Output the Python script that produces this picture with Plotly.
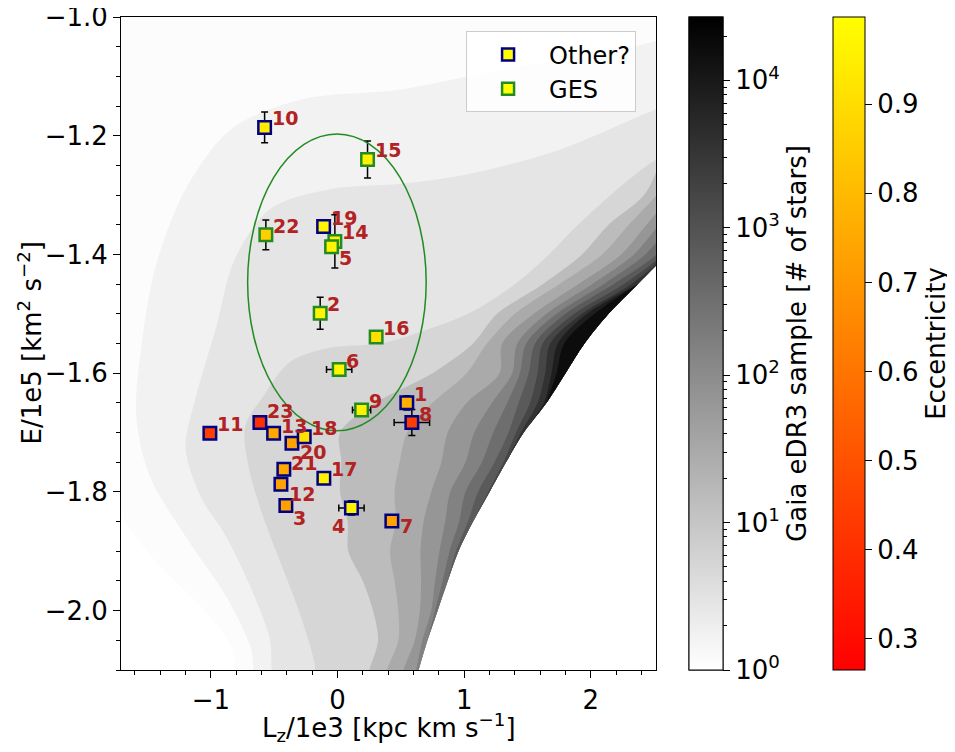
import numpy as np
import plotly.graph_objects as go
from plotly.colors import sample_colorscale

# stars: Lz/1e3 [kpc km/s], E/1e5 [km^2/s^2]
STAR_ID = [1, 2, 3, 4, 5, 6, 7, 8, 9, 10, 11, 12, 13, 14, 15, 16, 17, 18, 19, 20, 21, 22, 23]
STAR_LZ = [0.547, -0.137, -0.408, 0.110, -0.047, 0.013, 0.429, 0.587, 0.190, -0.576, -1.008, -0.447,
           -0.505, -0.021, 0.237, 0.305, -0.108, -0.263, -0.110, -0.360, -0.424, -0.566, -0.613]
STAR_E = [-1.650, -1.499, -1.823, -1.827, -1.387, -1.594, -1.849, -1.683, -1.662, -1.186, -1.701, -1.787,
          -1.701, -1.378, -1.240, -1.539, -1.777, -1.707, -1.353, -1.718, -1.762, -1.367, -1.683]
STAR_LZ_ERR = [0, 0, 0, 0.10, 0, 0.10, 0, 0.14, 0.072, 0, 0, 0, 0, 0, 0, 0, 0, 0, 0, 0, 0, 0, 0]
STAR_E_ERR = [0.012, 0.027, 0, 0.012, 0, 0, 0, 0.022, 0, 0.026, 0, 0, 0, 0.045, 0.031, 0, 0, 0, 0, 0, 0, 0.025, 0]
STAR_ECC = [0.77, 0.97, 0.73, 0.96, 0.97, 0.98, 0.73, 0.44, 0.96, 0.94, 0.45, 0.73,
            0.75, 0.96, 0.96, 0.91, 0.96, 0.91, 0.97, 0.73, 0.75, 0.86, 0.40]
STAR_GROUP = ["Other?", "GES", "Other?", "Other?", "GES", "GES", "Other?", "Other?", "GES", "Other?", "Other?",
              "Other?", "Other?", "GES", "GES", "GES", "Other?", "Other?", "Other?", "Other?", "Other?", "GES",
              "Other?"]

# Gaia eDR3 background
# lower/right envelope of the sample (Lz at each energy row)
E_ROWS = [-1.20, -1.30, -1.35, -1.40, -1.45, -1.50, -1.55, -1.60, -1.65, -1.70,
          -1.75, -1.80, -1.85, -1.90, -1.95, -2.00, -2.05, -2.10, -2.15]
EDGE_LZ = [3.50, 3.04, 2.82, 2.60, 2.37, 2.14, 1.95, 1.80, 1.65, 1.47,
           1.33, 1.20, 1.07, 0.955, 0.87, 0.79, 0.71, 0.64, 0.57]

# dense band along the envelope: log10(# of stars) and how far (in Lz) it reaches from the edge
BAND_LEVEL = [1.16, 1.48, 1.82, 2.17, 2.52, 2.87, 3.21, 3.56, 3.91, 4.22]
BAND_OFFSET = [
    [0.80, 0.62, 0.68, 0.67, 0.75, 0.88, 0.88, 1.05, 1.35, 1.45, 1.30, 1.18, 0.99, 0.87, 0.67, 0.51, 0.39, 0.39, 0.39],
    [0.60, 0.52, 0.52, 0.51, 0.62, 0.74, 0.77, 0.78, 0.90, 0.92, 0.84, 0.75, 0.61, 0.54, 0.42, 0.31, 0.23, 0.25, 0.25],
    [0.45, 0.40, 0.38, 0.36, 0.47, 0.59, 0.65, 0.52, 0.63, 0.60, 0.51, 0.46, 0.39, 0.30, 0.21, 0.14, 0.10, 0.12, 0.12],
    [0.35, 0.30, 0.28, 0.26, 0.36, 0.49, 0.53, 0.42, 0.43, 0.39, 0.32, 0.31, 0.22, 0.15, 0.10, 0.05, 0.04, 0.02, 0.02],
    [0.30, 0.20, 0.19, 0.17, 0.27, 0.41, 0.46, 0.36, 0.31, 0.24, 0.19, 0.19, 0.11, 0.07, 0.04, 0.02, 0, 0, 0],
    [0.25, 0.12, 0.10, 0.08, 0.19, 0.34, 0.39, 0.29, 0.22, 0.12, 0.09, 0.09, 0.04, 0.02, 0, 0, 0, 0, 0],
    [0.20, 0.05, 0.04, 0.03, 0.11, 0.27, 0.33, 0.22, 0.13, 0.06, 0.02, 0.01, 0, 0, 0, 0, 0, 0, 0],
    [0.15, 0, 0, 0, 0.05, 0.21, 0.27, 0.16, 0.07, 0.02, 0, 0, 0, 0, 0, 0, 0, 0, 0],
    [0, 0, 0, 0, 0, 0.17, 0.21, 0.11, 0.02, 0, 0, 0, 0, 0, 0, 0, 0, 0, 0],
    [0, 0, 0, 0, 0, 0.11, 0.16, 0.07, 0, 0, 0, 0, 0, 0, 0, 0, 0, 0, 0],
]

# sparse halo: log10(# of stars) and its outer boundary
HALO_LEVEL = [0.06, 0.22, 0.45, 0.72]
HALO_LZ = [
    [3.2, -1.8, -1.8, -1.705, -1.40, -1.08, -0.84, -0.73],
    [3.2, 2.52, 1.29, 0.50, -0.29, -0.84, -1.20, -1.44, -1.55, -1.59, -1.48, -1.20, -0.88, -0.69, -0.59],
    [3.2, 2.52, 1.76, 1.05, 0.50, -0.06, -0.53, -0.81, -0.96, -1.12, -1.20, -1.08, -0.88, -0.69, -0.54, -0.45],
    [3.2, 2.52, 1.90, 1.67, 1.40, 1.03, 0.66, 0.34, -0.06, -0.37, -0.59, -0.73, -0.70, -0.59, -0.43, -0.29,
     -0.18, -0.15],
]
HALO_E = [
    [-0.95, -0.95, -1.80, -1.842, -1.926, -1.993, -2.059, -2.15],
    [-0.98, -1.04, -1.089, -1.122, -1.139, -1.189, -1.29, -1.423, -1.557, -1.674, -1.775, -1.875, -1.976,
     -2.059, -2.15],
    [-1.10, -1.155, -1.223, -1.264, -1.281, -1.29, -1.323, -1.407, -1.524, -1.641, -1.725, -1.808, -1.875,
     -1.959, -2.043, -2.15],
    [-1.18, -1.24, -1.35, -1.40, -1.45, -1.50, -1.53, -1.55, -1.557, -1.58, -1.64, -1.69, -1.76, -1.84, -1.93,
     -2.01, -2.09, -2.15],
]

# GES selection ellipse
ELL_LZ = (-0.71, 0.70)
ELL_E = (-1.697, -1.197)

LOG_MAX = 4.43
GREY = [[0, "rgb(255,255,255)"], [1, "rgb(0,0,0)"]]
AUTUMN = [[0, "rgb(255,0,0)"], [1, "rgb(255,255,0)"]]
ECC_MIN, ECC_MAX = 0.265, 0.998
BORDER = {"Other?": "navy", "GES": "forestgreen"}
FONT = "DejaVu Sans"

# label nudges in px (most sit up-right of the marker)
LABEL_SHIFT = {3: (5, -12), 4: (-21, -18), 5: (5, -11), 7: (6, -5), 8: (5, 8), 12: (6, -10),
               13: (5, 7), 20: (6, -9), 21: (5, 6), 23: (5, 11)}


def grey(level):
    return sample_colorscale(GREY, [level / LOG_MAX])[0]


def area(xs, ys, level):
    return go.Scatter(x=xs + xs[:1], y=ys + ys[:1], mode="lines", fill="toself", fillcolor=grey(level),
                      line=dict(width=0, shape="spline", smoothing=0.9), hoverinfo="skip", showlegend=False)


fig = go.Figure()

for level, lz, e in zip(HALO_LEVEL, HALO_LZ, HALO_E):
    fig.add_trace(area(lz + EDGE_LZ[::-1], e + E_ROWS[::-1], level))

for level, off in zip(BAND_LEVEL, BAND_OFFSET):
    used = [i for i, d in enumerate(off) if d > 0]
    rows = list(range(max(used[0] - 1, 0), min(used[-1] + 1, len(off) - 1) + 1))
    xs = [EDGE_LZ[i] - off[i] for i in rows] + [EDGE_LZ[i] for i in rows[::-1]]
    ys = [E_ROWS[i] for i in rows] + [E_ROWS[i] for i in rows[::-1]]
    fig.add_trace(area(xs, ys, level))

# stars, drawn from the last id to the first
order = list(range(len(STAR_ID)))[::-1]
fig.add_trace(go.Scatter(
    x=[STAR_LZ[i] for i in order], y=[STAR_E[i] for i in order], mode="markers",
    marker=dict(symbol="square", size=12.5, color=[STAR_ECC[i] for i in order], coloraxis="coloraxis",
                line=dict(width=2.5, color=[BORDER[STAR_GROUP[i]] for i in order])),
    error_x=dict(type="data", array=[STAR_LZ_ERR[i] for i in order], color="black", thickness=1.5, width=3.5),
    error_y=dict(type="data", array=[STAR_E_ERR[i] for i in order], color="black", thickness=1.5, width=3.5),
    hoverinfo="skip", showlegend=False))

for name, col in BORDER.items():
    fig.add_trace(go.Scatter(x=[None], y=[None], mode="markers", name=name,
                             marker=dict(symbol="square", size=12, color="yellow",
                                         line=dict(width=2.5, color=col))))

# grey colorbar (major ticks + minor ticks overlay)
fig.add_trace(go.Scatter(x=[None], y=[None], mode="markers", showlegend=False,
                         marker=dict(color=[0], coloraxis="coloraxis2")))
fig.add_trace(go.Scatter(x=[None], y=[None], mode="markers", showlegend=False,
                         marker=dict(color=[0], coloraxis="coloraxis3")))

for i, sid in enumerate(STAR_ID):
    dx, dy = LABEL_SHIFT.get(sid, (5, 9))
    fig.add_annotation(x=STAR_LZ[i], y=STAR_E[i], text="<b>%d</b>" % sid, showarrow=False, xanchor="left",
                       yanchor="middle", xshift=dx, yshift=dy,
                       font=dict(family=FONT, size=19, color="#b22222"))

# axis titles placed by hand
fig.add_annotation(x=0.5, y=0, xref="paper", yref="paper", yanchor="middle", yshift=-57, showarrow=False,
                   text="L<sub>z</sub>/1e3 [kpc km s<sup>\u22121</sup>]", font=dict(family=FONT, size=26))
fig.add_annotation(x=0, y=0.5, xref="paper", yref="paper", xanchor="center", xshift=-91, textangle=-90,
                   showarrow=False, text="E/1e5 [km<sup>2</sup> s<sup>\u22122</sup>]",
                   font=dict(family=FONT, size=26))

fig.add_shape(type="circle", xref="x", yref="y", x0=ELL_LZ[0], x1=ELL_LZ[1], y0=ELL_E[0], y1=ELL_E[1],
              line=dict(color="forestgreen", width=1.5), layer="above")

minor_cb = [np.log10(k * 10 ** n) for n in range(5) for k in range(2, 10) if np.log10(k * 10 ** n) < LOG_MAX]
cb_common = dict(len=1, lenmode="fraction", y=0.5, yanchor="middle", ypad=0, xpad=0, xanchor="left",
                 outlinewidth=1, outlinecolor="black", ticks="outside", tickcolor="black",
                 tickfont=dict(family=FONT, size=26))

# the page adds an 8px body margin, so the figure is 8px smaller and shifted
fig.update_layout(
    width=947, height=744, margin=dict(l=113, r=299, t=9, b=82, autoexpand=False),
    paper_bgcolor="white", plot_bgcolor="white", hovermode=False,
    font=dict(family=FONT, size=26, color="black"),
    coloraxis=dict(colorscale=AUTUMN, cmin=ECC_MIN, cmax=ECC_MAX,
                   colorbar=dict(x=1.3308, thickness=32, tickvals=[0.3, 0.4, 0.5, 0.6, 0.7, 0.8, 0.9],
                                 ticklen=7, title=dict(text="Eccentricity", side="right",
                                                       font=dict(family=FONT, size=26)), **cb_common)),
    coloraxis2=dict(colorscale=GREY, cmin=0, cmax=LOG_MAX,
                    colorbar=dict(x=1.0617, thickness=34, tickvals=[0, 1, 2, 3, 4],
                                  ticktext=["10<sup>%d</sup>" % n for n in range(5)], ticklen=7,
                                  title=dict(text="Gaia eDR3 sample [# of stars]", side="right",
                                             font=dict(family=FONT, size=26)), **cb_common)),
    coloraxis3=dict(colorscale=GREY, cmin=0, cmax=LOG_MAX,
                    colorbar=dict(x=1.0617, thickness=34, tickvals=minor_cb, ticklen=4,
                                  showticklabels=False, **cb_common)),
    legend=dict(x=0.645, y=0.978, xanchor="left", yanchor="top", bgcolor="rgba(255,255,255,0.85)",
                bordercolor="#cccccc", borderwidth=1, itemwidth=72, font=dict(family=FONT, size=24)),
)

fig.update_xaxes(range=[-1.71, 2.515], tickvals=[-1, 0, 1, 2], ticktext=["\u22121", "0", "1", "2"],
                 ticks="outside", ticklen=7, tickcolor="black", showline=True, mirror=True, linecolor="black",
                 linewidth=1, showgrid=False, zeroline=False, automargin=False, ticklabeloverflow="allow",
                 minor=dict(tickmode="linear", tick0=0, dtick=0.2, ticks="outside", ticklen=4, tickcolor="black"))
fig.update_yaxes(range=[-2.1, -1.0], tickvals=[-2.0, -1.8, -1.6, -1.4, -1.2, -1.0],
                 ticktext=["\u22122.0", "\u22121.8", "\u22121.6", "\u22121.4", "\u22121.2", "\u22121.0"],
                 ticks="outside", ticklen=7, tickcolor="black", showline=True, mirror=True, linecolor="black",
                 linewidth=1, showgrid=False, zeroline=False, automargin=False, ticklabeloverflow="allow",
                 minor=dict(tickmode="linear", tick0=0, dtick=0.05, ticks="outside", ticklen=4, tickcolor="black"))

fig.write_html("out.html")
